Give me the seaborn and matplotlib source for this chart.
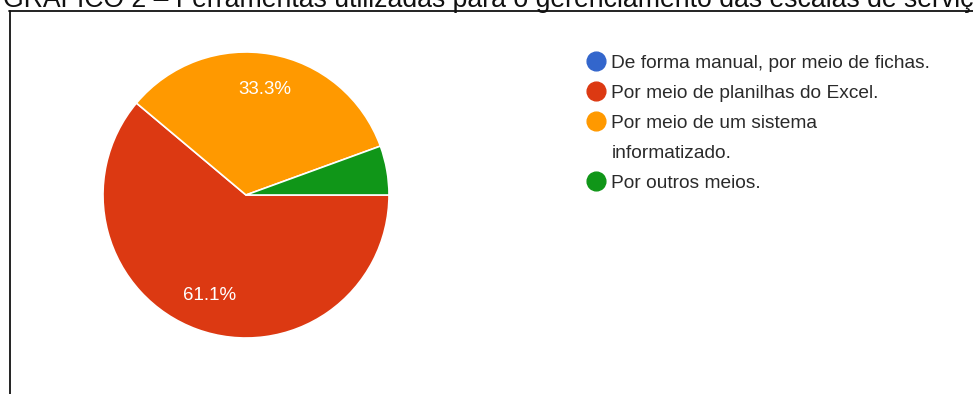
import numpy as np
import matplotlib
matplotlib.use("Agg")
import matplotlib.pyplot as plt
import seaborn as sns
from matplotlib.lines import Line2D

# data (18 answers)
categories = ["De forma manual, por meio de fichas.",
              "Por meio de planilhas do Excel.",
              "Por meio de um sistema\ninformatizado.",
              "Por outros meios."]
counts = [0, 11, 6, 1]
colors = ["#3366cc", "#dc3912", "#ff9900", "#109618"]
title = "GRÁFICO 2 – Ferramentas utilizadas para o gerenciamento das escalas de serviço"

sns.set_theme(style="white")
plt.rcParams['font.family'] = ['Liberation Sans', 'DejaVu Sans']

W, H = 973, 394
fig = plt.figure(figsize=(W / 100, H / 100), dpi=100)

# frame lines (left + top) like the screenshot box
fig.add_artist(Line2D([9.5 / W, 9.5 / W], [0, 1 - 10.5 / H], color="#111111", lw=1.3))
fig.add_artist(Line2D([9 / W, 1], [1 - 10.5 / H, 1 - 10.5 / H], color="#111111", lw=1.3))

# title, cut at the top
fig.text(3 / W, 1 - 7 / H, title, fontsize=19.15, color="#111111",
         ha="left", va="baseline")

cx, cy, r = 246, 195, 143
ax = fig.add_axes([(cx - r) / W, (H - cy - r) / H, 2 * r / W, 2 * r / H])

def fmt(p):
    return f"{p:.1f}%" if p > 10 else ""

wedges, texts, autotexts = ax.pie(counts, colors=colors, startangle=0, counterclock=False,
                                  autopct=fmt, pctdistance=0.75,
                                  wedgeprops=dict(edgecolor="white", linewidth=1.2),
                                  textprops=dict(color="white", fontsize=13.5))
ax.set_xlim(-1, 1)
ax.set_ylim(-1, 1)
ax.set_aspect("equal")
ax.axis("off")

# legend: wrapped labels get an empty handle on their continuation line
handles, labels = [], []
for cat, c in zip(categories, colors):
    for i, part in enumerate(cat.split("\n")):
        if i == 0:
            handles.append(Line2D([], [], marker="o", linestyle="none", markersize=13.5,
                                  markerfacecolor=c, markeredgecolor=c))
        else:
            handles.append(Line2D([], [], linestyle="none"))
        labels.append(part)

leg = fig.legend(handles, labels, loc="upper left",
                 bbox_to_anchor=(579 / W, 1 - 47 / H), frameon=False,
                 prop=dict(family="Liberation Sans", size=13.75), labelspacing=0.66,
                 handlelength=0.95, handletextpad=0.35, borderaxespad=0)
for t in leg.get_texts():
    t.set_color("#2a2a2a")

fig.savefig("out.png", dpi=100, facecolor="white")
